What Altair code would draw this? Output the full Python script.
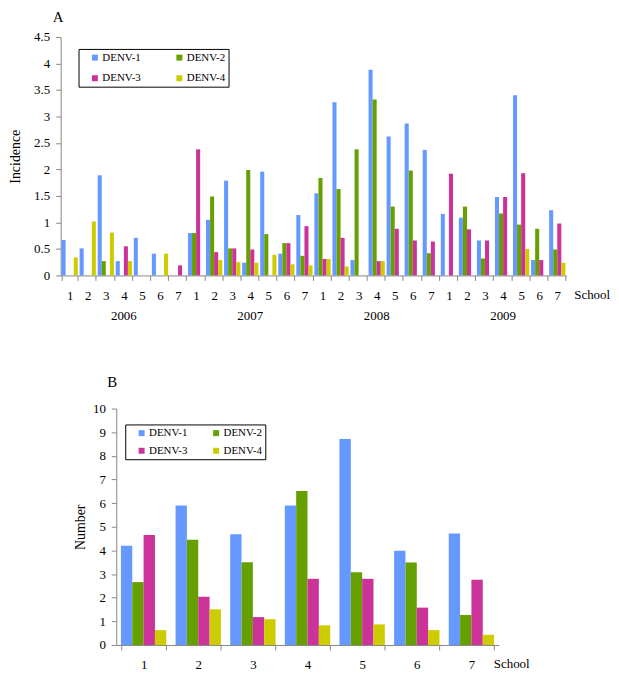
import altair as alt
import pandas as pd

series = ["DENV-1", "DENV-2", "DENV-3", "DENV-4"]
colors = ["#6699FF", "#66A000", "#CC3399", "#CCCC00"]
years = ["2006", "2007", "2008", "2009"]
schools = ["1", "2", "3", "4", "5", "6", "7"]
school_label = ["School"]

# Panel A: incidence, years 2006-2009 x schools 1-7
inc_denv1 = [0.67, 0.51, 1.89, 0.27, 0.71, 0.41, 0.00,
             0.80, 1.05, 1.79, 0.24, 1.96, 0.41, 1.14,
             1.55, 3.27, 0.29, 3.88, 2.62, 2.87, 2.37,
             1.16, 1.09, 0.66, 1.48, 3.40, 0.29, 1.23]
inc_denv2 = [0.00, 0.00, 0.27, 0.00, 0.00, 0.00, 0.00,
             0.80, 1.49, 0.51, 1.99, 0.78, 0.61, 0.37,
             1.84, 1.63, 2.38, 3.32, 1.30, 1.98, 0.42,
             0.00, 1.30, 0.32, 1.17, 0.96, 0.88, 0.49]
inc_denv3 = [0.00, 0.00, 0.00, 0.55, 0.00, 0.00, 0.19,
             2.38, 0.44, 0.51, 0.49, 0.00, 0.61, 0.93,
             0.31, 0.71, 0.00, 0.27, 0.88, 0.66, 0.64,
             1.92, 0.87, 0.66, 1.48, 1.93, 0.29, 0.98]
inc_denv4 = [0.34, 1.02, 0.81, 0.27, 0.00, 0.41, 0.00,
             0.00, 0.29, 0.25, 0.24, 0.39, 0.21, 0.19,
             0.31, 0.17, 0.00, 0.27, 0.00, 0.00, 0.00,
             0.00, 0.00, 0.00, 0.00, 0.50, 0.00, 0.24]

# Panel B: number by school
num_denv1 = [4.20, 5.90, 4.68, 5.90, 8.71, 3.99, 4.71]
num_denv2 = [2.66, 4.45, 3.50, 6.51, 3.08, 3.49, 1.27]
num_denv3 = [4.65, 2.04, 1.18, 2.80, 2.80, 1.58, 2.76]
num_denv4 = [0.63, 1.51, 1.09, 0.83, 0.87, 0.63, 0.43]

yticks_a = [0, 0.5, 1, 1.5, 2, 2.5, 3, 3.5, 4, 4.5]
yticks_b = [0, 1, 2, 3, 4, 5, 6, 7, 8, 9, 10]

FONT = "Liberation Serif"
GRAY = "#868686"

keysA = [f"{y}-{s}" for y in years for s in schools]
incA = [inc_denv1, inc_denv2, inc_denv3, inc_denv4]
dfA = pd.DataFrame([
    {"key": keysA[i], "year": years[i // 7], "school": schools[i % 7],
     "series": series[k], "value": vals[i]}
    for k, vals in enumerate(incA) for i in range(len(keysA))
])
numB = [num_denv1, num_denv2, num_denv3, num_denv4]
dfB = pd.DataFrame([
    {"school": schools[i], "series": series[k], "value": vals[i]}
    for k, vals in enumerate(numB) for i in range(len(schools))
])
dfLabel = pd.DataFrame({"label": school_label})

color_scale = alt.Scale(domain=series, range=colors)


def make_legend(x, y, col_pad, row_pad):
    return alt.Legend(title=None, orient="none", legendX=x, legendY=y, columns=2,
                      direction="horizontal", symbolType="square", symbolSize=36,
                      symbolStrokeWidth=0, symbolOffset=8, labelFont=FONT, labelFontSize=11,
                      labelColor="black", labelOffset=2, columnPadding=col_pad,
                      rowPadding=row_pad, padding=3, strokeColor="black", fillColor="white")


def x_axis(expr=None):
    kw = dict(labelAngle=0, tickBand="extent", labelPadding=9, tickSize=5,
              domainColor=GRAY, tickColor=GRAY, labelFont=FONT, labelFontSize=13,
              labelColor="black")
    if expr:
        kw["labelExpr"] = expr
    return alt.Axis(**kw)


def y_axis(title, values, title_pad, offset=0):
    return alt.Axis(title=title, values=values, format="~r", tickSize=5, labelPadding=6,
                    domainColor=GRAY, tickColor=GRAY, grid=False, labelFont=FONT,
                    labelFontSize=13, labelColor="black", titleFont=FONT, titleFontSize=14,
                    titleFontWeight="normal", titleColor="black", titlePadding=title_pad,
                    offset=offset)


# ---------- Panel A ----------
W_A, H_A = 509, 240
xA = alt.X("key:N", sort=keysA, title=None,
           scale=alt.Scale(paddingInner=0.1, paddingOuter=0.05),
           axis=x_axis("split(datum.value, '-')[1]"))
baseA = alt.Chart(dfA)
barsA = baseA.mark_bar().encode(
    x=xA,
    xOffset=alt.XOffset("series:N", sort=series),
    y=alt.Y("value:Q", scale=alt.Scale(domain=[0, 4.5]),
            axis=y_axis("Incidence", yticks_a, 11)),
    color=alt.Color("series:N", scale=color_scale, legend=make_legend(18, 12, 25, 9)),
)
yearsA = baseA.transform_filter(
    "datum.school == '4' && datum.series == 'DENV-1'"
).mark_text(font=FONT, fontSize=13, baseline="middle", color="black").encode(
    x=xA, y=alt.value(H_A + 41), text="year:N"
)
schoolA = alt.Chart(dfLabel).mark_text(
    font=FONT, fontSize=13, align="left", baseline="middle", color="black"
).encode(x=alt.value(W_A + 8), y=alt.value(H_A + 20), text="label:N")

chartA = alt.layer(barsA, yearsA, schoolA).properties(
    width=W_A, height=H_A,
    title=alt.Title("A", anchor="start", frame="group", dx=-8, offset=6,
                    font=FONT, fontSize=15, fontWeight="normal", color="black"),
)

# ---------- Panel B ----------
W_B, H_B = 441, 238
SHIFT = 56
xB = alt.X("school:N", sort=schools, title=None,
           scale=alt.Scale(range=[SHIFT, W_B], paddingInner=0.17, paddingOuter=0.085),
           axis=x_axis())
barsB = alt.Chart(dfB).mark_bar().encode(
    x=xB,
    xOffset=alt.XOffset("series:N", sort=series),
    y=alt.Y("value:Q", scale=alt.Scale(domain=[0, 10]),
            axis=y_axis("Number", yticks_b, 5, offset=-SHIFT)),
    color=alt.Color("series:N", scale=color_scale, legend=make_legend(65, 16, 15, 6)),
)
schoolB = alt.Chart(dfLabel).mark_text(
    font=FONT, fontSize=13, align="left", baseline="middle", color="black"
).encode(x=alt.value(W_B - 5), y=alt.value(H_B + 19), text="label:N")

chartB = alt.layer(barsB, schoolB).properties(
    width=W_B, height=H_B,
    title=alt.Title("B", anchor="start", frame="group", dx=47, offset=13,
                    font=FONT, fontSize=15, fontWeight="normal", color="black"),
)

chart = alt.vconcat(chartA, chartB, spacing=52).resolve_scale(
    x="independent", y="independent", xOffset="independent"
).resolve_legend(
    color="independent"
).properties(
    padding={"left": 0, "top": 0, "right": 0, "bottom": 0}
).configure(font=FONT).configure_view(stroke=None)

chart.save("out.html", embed_options={"renderer": "svg", "actions": False})
